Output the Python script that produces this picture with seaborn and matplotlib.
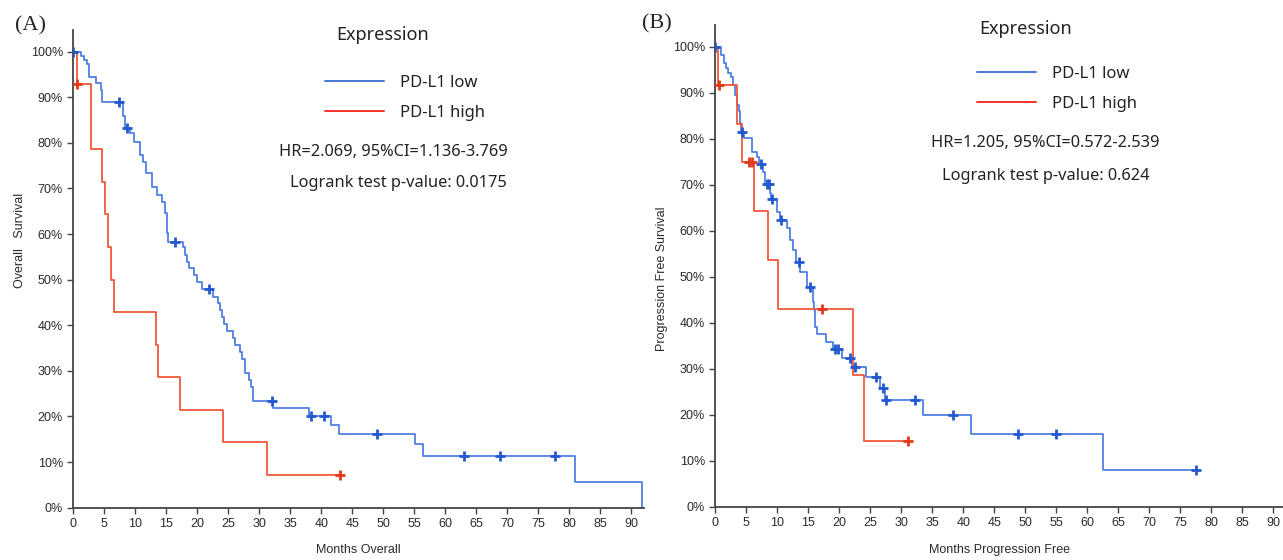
import numpy as np
import pandas as pd
import matplotlib
matplotlib.use('Agg')
import matplotlib.pyplot as plt
import seaborn as sns
from matplotlib.lines import Line2D

sns.set_style('ticks')

# Panel A - overall survival, step points (month, % surviving)
os_low_t = [0, 1.2, 1.7, 2.2, 2.6, 3.6, 4.4, 4.7, 8.0, 8.35, 9.2, 9.8, 10.8, 11.3, 11.7,
            12.7, 13.5, 14.3, 14.8, 15.1, 15.3, 17.7, 18.0, 18.4, 18.7, 19.4, 19.9, 20.7,
            22.6, 23.3, 23.6, 24.0, 24.3, 24.8, 25.7, 26.1, 26.9, 27.3, 27.7, 28.3, 28.7,
            29.0, 32.3, 38.0, 41.6, 42.9, 55.1, 56.4, 80.9, 91.8]
os_low_s = [100, 99.0, 98.1, 97.2, 94.5, 93.1, 91.6, 88.9, 85.9, 83.2, 82.1, 80.3, 77.3, 75.9, 73.3,
            70.4, 68.6, 67.1, 64.6, 60.2, 58.3, 57.2, 55.4, 53.9, 52.5, 51.0, 49.6, 47.9,
            46.3, 44.8, 43.4, 41.8, 40.2, 38.7, 37.3, 35.7, 34.2, 32.5, 29.5, 28.0, 26.5,
            23.4, 21.8, 20.1, 18.1, 16.1, 13.9, 11.3, 5.7, 0]
os_low_cens_t = [0, 7.4, 8.6, 16.4, 21.9, 32.0, 38.4, 40.4, 49.0, 63.0, 68.8, 77.7]
os_low_cens_s = [100, 88.9, 83.2, 58.3, 47.9, 23.4, 20.1, 20.1, 16.1, 11.3, 11.3, 11.3]

os_high_t = [0, 0.55, 2.8, 4.7, 5.1, 5.6, 6.1, 6.5, 13.4, 13.6, 17.3, 24.1, 31.2, 43.1]
os_high_s = [100, 92.9, 78.6, 71.4, 64.3, 57.1, 50.0, 42.9, 35.7, 28.6, 21.4, 14.3, 7.1, 7.1]
os_high_cens_t = [0.65, 43.1]
os_high_cens_s = [92.9, 7.1]

# Panel B - progression free survival
pfs_low_t = [0, 0.9, 1.4, 1.7, 2.1, 2.5, 2.8, 3.2, 3.5, 3.8, 4.0, 4.2, 4.6, 6.0, 6.7, 7.1, 7.7,
             8.0, 8.8, 9.0, 9.9, 10.4, 11.6, 12.0, 12.6, 13.1, 13.7, 14.8, 15.7, 15.9, 16.1,
             16.4, 17.9, 19.0, 20.5, 22.0, 24.3, 26.5, 27.4, 33.5, 41.2, 62.6, 77.5]
pfs_low_s = [100, 98.2, 96.4, 95.3, 94.2, 93.5, 91.7, 89.5, 87.3, 86.0, 83.5, 81.5, 80.1, 77.2,
             76.1, 74.4, 72.8, 70.2, 68.1, 66.9, 64.1, 62.3, 60.5, 58.0, 55.8, 53.1, 51.1,
             47.8, 44.6, 42.8, 39.1, 37.5, 35.9, 34.2, 32.3, 30.4, 28.1, 25.9, 23.2, 19.9,
             15.9, 7.9, 7.9]
pfs_low_cens_t = [0, 4.25, 7.4, 8.4, 8.7, 9.2, 10.6, 13.5, 15.3, 19.3, 19.8, 21.7, 22.5, 26.0,
                  27.0, 27.6, 32.2, 38.3, 48.9, 55.0, 77.5]
pfs_low_cens_s = [100, 81.5, 74.4, 70.2, 70.2, 66.9, 62.3, 53.1, 47.8, 34.2, 34.2, 32.3, 30.4,
                  28.1, 25.9, 23.2, 23.2, 19.9, 15.9, 15.9, 7.9]

pfs_high_t = [0, 0.5, 3.55, 4.25, 6.3, 8.55, 10.2, 22.2, 24.0, 31.1]
pfs_high_s = [100, 91.7, 83.3, 75.0, 64.3, 53.6, 42.9, 28.6, 14.3, 14.3]
pfs_high_cens_t = [0.6, 5.4, 5.9, 17.3, 31.1]
pfs_high_cens_s = [91.7, 75.0, 75.0, 42.9, 14.3]

groups = ['PD-L1 low', 'PD-L1 high']
stats_a = ['HR=2.069, 95%CI=1.136-3.769', 'Logrank test p-value: 0.0175']
stats_b = ['HR=1.205, 95%CI=0.572-2.539', 'Logrank test p-value: 0.624']

line_col = {'PD-L1 low': '#4f80e2', 'PD-L1 high': '#f0583a'}
mark_col = {'PD-L1 low': '#2458d0', 'PD-L1 high': '#e2391a'}
leg_col = {'PD-L1 low': '#4a78d8', 'PD-L1 high': '#f5302a'}

txt_font = ['Noto Sans', 'DejaVu Sans']
tick_font = 'Liberation Sans'

fig = plt.figure(figsize=(12.83, 5.6), dpi=100)
ax_a = fig.add_axes([0.0571, 0.0934, 0.4445, 0.8526])
ax_b = fig.add_axes([0.5575, 0.0952, 0.4425, 0.8600])


def km_panel(ax, curves, xmax):
    for name, t, s, ct, cs in curves:
        sns.lineplot(x=t, y=s, ax=ax, color=line_col[name], lw=1.3,
                     drawstyle='steps-post', estimator=None, sort=False)
        sns.scatterplot(x=ct, y=cs, ax=ax, marker='+', s=55, color=mark_col[name],
                        linewidth=2, zorder=5)
    ax.set_xlim(0, xmax)
    ax.set_ylim(0, 104.7)
    ax.set_xticks(np.arange(0, 95, 5))
    ax.set_yticks(np.arange(0, 101, 10))
    ax.set_yticklabels([f'{v}%' for v in range(0, 101, 10)])
    sns.despine(ax=ax)
    for sp in ['left', 'bottom']:
        ax.spines[sp].set_color('#444444')
        ax.spines[sp].set_linewidth(1.3)
    ax.tick_params(colors='#444444', labelcolor='#2a2a2a', labelsize=9, length=4, width=1)
    for lab in ax.get_xticklabels() + ax.get_yticklabels():
        lab.set_family(tick_font)


km_panel(ax_a, [('PD-L1 low', os_low_t, os_low_s, os_low_cens_t, os_low_cens_s),
                ('PD-L1 high', os_high_t, os_high_s, os_high_cens_t, os_high_cens_s)], 92)
km_panel(ax_b, [('PD-L1 low', pfs_low_t, pfs_low_s, pfs_low_cens_t, pfs_low_cens_s),
                ('PD-L1 high', pfs_high_t, pfs_high_s, pfs_high_cens_t, pfs_high_cens_s)], 91.6)

ax_a.set_ylabel('Overall   Survival', family=tick_font, fontsize=9, color='#2a2a2a')
ax_a.yaxis.set_label_coords(-0.083, 0.56)
ax_a.set_xlabel('Months Overall', family=tick_font, fontsize=9, color='#2a2a2a')
ax_a.xaxis.set_label_coords(0.5, -0.076)
ax_b.set_ylabel('Progression Free Survival', family=tick_font, fontsize=9, color='#2a2a2a')
ax_b.yaxis.set_label_coords(-0.083, 0.473)
ax_b.set_xlabel('Months Progression Free', family=tick_font, fontsize=9, color='#2a2a2a')
ax_b.xaxis.set_label_coords(0.5, -0.077)

# legends and stats text
handles = [Line2D([], [], color=leg_col[g], lw=1.4) for g in groups]
for ax, title_xy, leg_xy, stats, st_xy in [
        (ax_a, (49.95, 103.7), (0.441, 0.906), stats_a, [(51.6, 78.0), (52.4, 71.1)]),
        (ax_b, (50.1, 103.8), (0.4615, 0.915), stats_b, [(53.2, 79.0), (53.3, 72.0)])]:
    ax.text(*title_xy, 'Expression', family=txt_font, fontsize=13, color='#222222',
            ha='center', va='center')
    leg = ax.legend(handles, groups, loc='upper left', bbox_to_anchor=leg_xy, frameon=False,
                    borderpad=0, borderaxespad=0, handlelength=3.54, handletextpad=0.96,
                    labelspacing=0.85, prop={'family': txt_font, 'size': 12})
    for t in leg.get_texts():
        t.set_color('#222222')
    for txt, xy in zip(stats, st_xy):
        ax.text(*xy, txt, family=txt_font, fontsize=11.8, color='#222222', ha='center', va='center')

fig.text(0.0234, 0.9536, '(A)', family='Liberation Serif', fontsize=16, ha='center', va='center')
fig.text(0.512, 0.957, '(B)', family='Liberation Serif', fontsize=16, ha='center', va='center')

fig.savefig('out.png', dpi=100)
